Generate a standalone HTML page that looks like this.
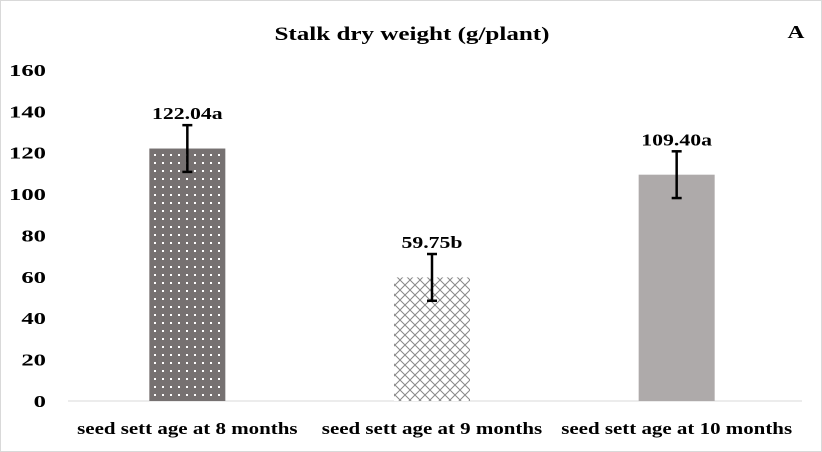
<!DOCTYPE html>
<html><head><meta charset="utf-8"><style>
body{margin:0;background:#fff}
svg{display:block;font-family:"Liberation Serif",serif;font-weight:bold}
</style></head><body>
<svg id="c" width="822" height="452">
<defs>
<pattern id="dots" width="8" height="8" patternUnits="userSpaceOnUse"><rect width="8" height="8" fill="#767171"/><rect x="2" y="2" width="2" height="2" fill="#fff"/></pattern>
<pattern id="lattice" width="10" height="10" patternUnits="userSpaceOnUse"><rect width="10" height="10" fill="#fff"/><path d="M0 0L10 10M10 0L0 10" stroke="#888" stroke-width="1"/></pattern>
</defs>
<rect x="0.5" y="0.5" width="821" height="451" fill="#fff" stroke="#d9d9d9"/>
<text x="412" y="40" text-anchor="middle" font-size="19" transform="translate(412,0) scale(1.32,1) translate(-412,0)">Stalk dry weight (g/plant)</text>
<text x="796" y="38" text-anchor="middle" font-size="18" transform="translate(796,0) scale(1.3,1) translate(-796,0)">A</text>
<g id="g"></g>
</svg>
<script>
const categories=["seed sett age at 8 months","seed sett age at 9 months","seed sett age at 10 months"];
const values=[122.04,59.75,109.40];
const errors=[11.3,11.3,11.3];
const labels=["122.04a","59.75b","109.40a"];
const ticks=[0,20,40,60,80,100,120,140,160];
const fills=["url(#dots)","url(#lattice)","#aeaaaa"];
const NS="http://www.w3.org/2000/svg";
const g=document.getElementById('g');
const x0=68,x1=802,yb=401,yt=70,ymax=160;
const y=v=>yb-(v/ymax)*(yb-yt);
const bw=(x1-x0)/categories.length;
const cx=i=>x0+bw*(i+0.5);
function mk(t,a){const e=document.createElementNS(NS,t);for(const k in a)e.setAttribute(k,a[k]);g.appendChild(e);return e;}
function sx(x,f){return 'translate('+x+',0) scale('+f+',1) translate('+(-x)+',0)';}
ticks.forEach(t=>{
 const e=mk('text',{x:46,y:y(t)+6,'text-anchor':'end','font-size':17,transform:sx(46,1.45)});
 
 
 e.textContent=t;
});
const ax=mk('line',{x1:x0,x2:x1,y1:yb,y2:yb,stroke:'#d9d9d9','stroke-width':1});


categories.forEach((c,i)=>{
 const w=76,xc=cx(i)-3;
 const r=mk('rect',{x:xc-w/2,y:y(values[i]),width:w,height:yb-y(values[i]),fill:fills[i]});
 
 
 const eg=document.createElementNS(NS,'g');
 
 
 g.appendChild(eg);
 const hi=y(values[i]+errors[i]),lo=y(values[i]-errors[i]);
 [[xc,hi,xc,lo],[xc-5,hi,xc+5,hi],[xc-5,lo,xc+5,lo]].forEach(p=>{
  const l=document.createElementNS(NS,'line');
  l.setAttribute('x1',p[0]);l.setAttribute('y1',p[1]);l.setAttribute('x2',p[2]);l.setAttribute('y2',p[3]);
  l.setAttribute('stroke','#000');l.setAttribute('stroke-width','2.5');
  eg.appendChild(l);
 });
 const t=mk('text',{x:xc,y:hi-6,'text-anchor':'middle','font-size':17,transform:sx(xc,1.28)});
 
 
 t.textContent=labels[i];
 const cl=mk('text',{x:xc,y:434,'text-anchor':'middle','font-size':16.5,transform:sx(xc,1.27)});
 
 
 cl.textContent=c;
});
</script>
</body></html>
